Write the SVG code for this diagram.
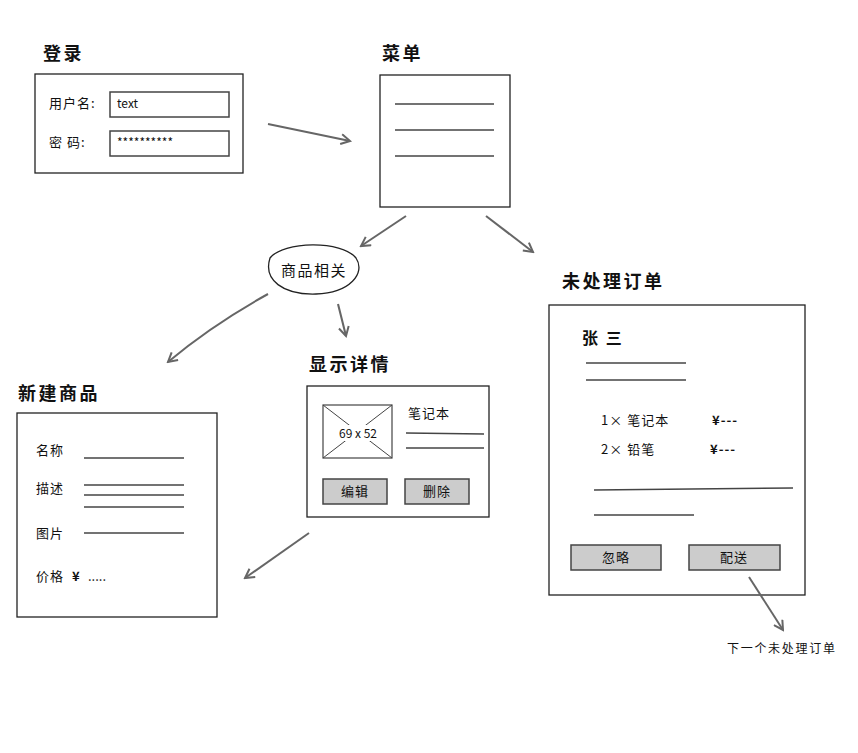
<svg xmlns="http://www.w3.org/2000/svg" width="858" height="753" viewBox="0 0 858 753">
<defs>
<style>
text{font-family:"Noto Sans CJK SC","DejaVu Sans",sans-serif;fill:#111}
.t{font-size:18px;font-weight:bold;letter-spacing:2.5px}
.s{font-size:13px;letter-spacing:1px}
.box{fill:#fff;stroke:#222;stroke-width:1.3}
.ln{stroke:#444;stroke-width:1.4;fill:none}
.btn{fill:#cccccc;stroke:#444;stroke-width:1.5}
.fld{fill:#fff;stroke:#444;stroke-width:1.5}
.arr{stroke:#666;stroke-width:2;fill:none;marker-end:url(#ah)}
</style>
<marker id="ah" viewBox="0 0 12 12" refX="10" refY="6" markerWidth="12" markerHeight="12" markerUnits="userSpaceOnUse" orient="auto">
<path d="M1,1 L10,6 L1,11" fill="none" stroke="#666" stroke-width="2"/>
</marker>
</defs>
<rect width="858" height="753" fill="#fff"/>

<g id="login">
<text class="t" x="43" y="60">登录</text>
<rect class="box" x="35" y="74" width="208" height="99"/>
<text class="s" x="49" y="108">用户名:</text>
<rect class="fld" x="110" y="92" width="119" height="25"/>
<text x="117" y="108" style="font-size:12px">text</text>
<text class="s" x="49" y="147">密 码:</text>
<rect class="fld" x="110" y="131" width="119" height="25"/>
<text x="117" y="147" style="font-size:12px">**********</text>
</g>

<g id="menu">
<text class="t" x="382" y="60">菜单</text>
<rect class="box" x="380" y="75" width="130" height="132"/>
<line class="ln" x1="395" y1="104" x2="494" y2="104"/>
<line class="ln" x1="395" y1="130" x2="494" y2="130"/>
<line class="ln" x1="395" y1="156" x2="494" y2="156"/>
</g>

<g id="goods">
<path d="M270,258 C283,241 342,240 356,258 C366,273 350,293 316,294 C283,295 263,280 270,258 Z" fill="#fff" stroke="#222" stroke-width="1.3"/>
<text x="314" y="276" text-anchor="middle" style="font-size:15px;letter-spacing:1.5px">商品相关</text>
</g>

<g id="orders">
<text class="t" x="562" y="288">未处理订单</text>
<rect class="box" x="549" y="305" width="256" height="290"/>
<text x="582" y="344" style="font-size:16px;font-weight:bold;letter-spacing:2px">张 三</text>
<line class="ln" x1="586" y1="363" x2="686" y2="363"/>
<line class="ln" x1="586" y1="380" x2="686" y2="380"/>
<text class="s" x="601" y="425">1× 笔记本</text>
<text class="s" x="712" y="425" style="font-weight:bold">¥---</text>
<text class="s" x="601" y="454">2× 铅笔</text>
<text class="s" x="710" y="454" style="font-weight:bold">¥---</text>
<line class="ln" x1="594" y1="490" x2="793" y2="488"/>
<line class="ln" x1="594" y1="515" x2="694" y2="515"/>
<rect class="btn" x="571" y="545" width="90" height="25"/>
<text class="s" x="616" y="562" text-anchor="middle">忽略</text>
<rect class="btn" x="689" y="545" width="91" height="25"/>
<text class="s" x="734" y="562" text-anchor="middle">配送</text>
</g>

<g id="next">
<text x="727" y="653" style="font-size:12px;letter-spacing:1.7px">下一个未处理订单</text>
</g>

<g id="detail">
<text class="t" x="309" y="371">显示详情</text>
<rect class="box" x="307" y="386" width="182" height="131"/>
<rect x="323" y="405" width="69" height="53" fill="#fff" stroke="#444" stroke-width="1.2"/>
<line x1="323" y1="405" x2="392" y2="458" stroke="#444" stroke-width="1"/>
<line x1="392" y1="405" x2="323" y2="458" stroke="#444" stroke-width="1"/>
<rect x="334" y="425" width="48" height="16" fill="#fff"/>
<text x="358" y="438" text-anchor="middle" style="font-size:12px">69 x 52</text>
<text class="s" x="408" y="418">笔记本</text>
<line class="ln" x1="406" y1="433" x2="484" y2="434"/>
<line class="ln" x1="406" y1="448" x2="484" y2="448"/>
<rect class="btn" x="323" y="479" width="64" height="25"/>
<text class="s" x="355" y="496" text-anchor="middle">编辑</text>
<rect class="btn" x="405" y="479" width="64" height="25"/>
<text class="s" x="437" y="496" text-anchor="middle">删除</text>
</g>

<g id="newgoods">
<text class="t" x="18" y="400">新建商品</text>
<rect class="box" x="17" y="413" width="200" height="204"/>
<text class="s" x="36" y="455">名称</text>
<line class="ln" x1="84" y1="458" x2="184" y2="458"/>
<text class="s" x="36" y="493">描述</text>
<line class="ln" x1="84" y1="485" x2="184" y2="485"/>
<line class="ln" x1="84" y1="495" x2="184" y2="495"/>
<line class="ln" x1="84" y1="507" x2="184" y2="507"/>
<text class="s" x="36" y="538">图片</text>
<line class="ln" x1="84" y1="533" x2="184" y2="533"/>
<text class="s" x="36" y="581">价格</text>
<text class="s" x="72" y="581" style="font-weight:bold">¥</text>
<text class="s" x="88" y="581" style="letter-spacing:0">.....</text>
</g>

<g id="connectors">
<path class="arr" d="M268,124 L350,141"/>
<path class="arr" d="M406,216 L361,246"/>
<path class="arr" d="M486,216 L533,252"/>
<path class="arr" d="M268,294 C230,315 200,335 168,362"/>
<path class="arr" d="M338,304 L346,336"/>
<path class="arr" d="M309,533 L245,578"/>
<path class="arr" d="M749,577 L783,630"/>
</g>
</svg>
